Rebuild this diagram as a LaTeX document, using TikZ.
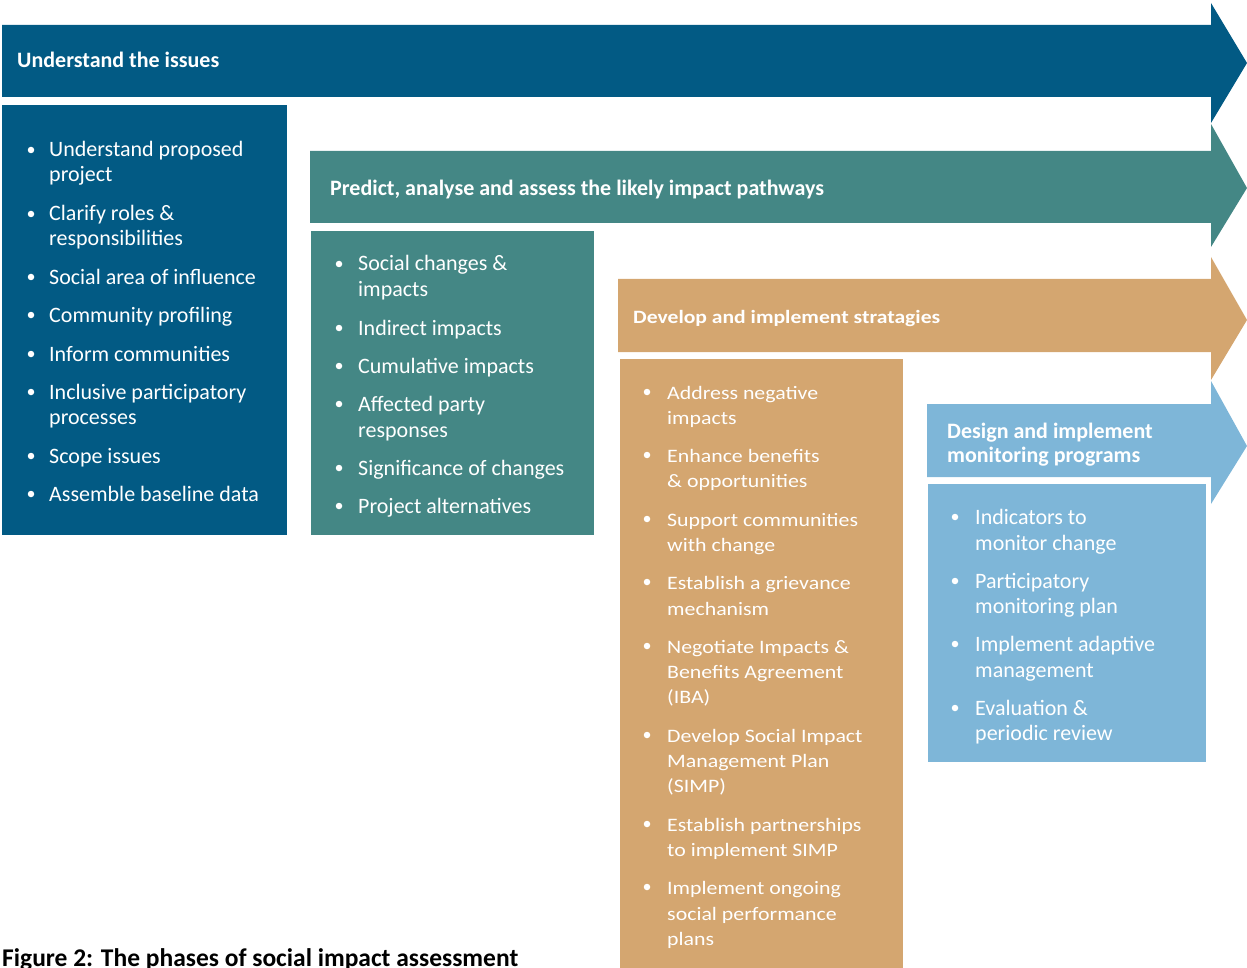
\documentclass[tikz,border=0pt]{standalone}
\usepackage{fontspec}
\setmainfont{Carlito}
\newfontfamily\widefont[FakeStretch=1.15]{Carlito}
\definecolor{cdark}{RGB}{2,90,132}
\definecolor{cteal}{RGB}{68,135,133}
\definecolor{ctan}{RGB}{212,166,112}
\definecolor{clight}{RGB}{126,182,216}
\newcounter{ln}
\newcommand\tline[3]{\stepcounter{ln}\node[itemline] (t\theln) at (#1,#2+8) {#3};}
\newcommand\tbul[2]{\stepcounter{ln}\node[bulletdot] (b\theln) at (#1,#2) {};}
\tikzset{
  itemline/.style={anchor=base west, inner sep=0pt, text=white, font=\fontsize{22}{25}\selectfont},
  bulletdot/.style={circle, fill=white, inner sep=0pt, minimum size=6.5pt},
  head/.style={anchor=base west, inner sep=0pt, text=white, font=\bfseries\fontsize{22}{24}\selectfont},
}
\begin{document}
\begin{tikzpicture}[x=1pt,y=-1pt]
\useasboundingbox (0,0) rectangle (1247,968);
% arrows
\fill[cdark] (2,25) -- (1211,25) -- (1211,3) -- (1247,63) -- (1211,123) -- (1211,97) -- (2,97) -- cycle;
\fill[cteal] (310,151) -- (1211,151) -- (1211,124) -- (1247,188) -- (1211,247) -- (1211,223) -- (310,223) -- cycle;
\fill[ctan] (618,279) -- (1211,279) -- (1211,257) -- (1247,320) -- (1211,380) -- (1211,352) -- (618,352) -- cycle;
\fill[clight] (927,404) -- (1211,404) -- (1211,381) -- (1247,446) -- (1211,504) -- (1211,477) -- (927,477) -- cycle;
% boxes
\fill[cdark] (2,105) rectangle (287,535);
\fill[cteal] (311,231) rectangle (594,535);
\fill[ctan] (620,359) rectangle (903,968);
\fill[clight] (928,484) rectangle (1206,762);
% headings
\node[head] (h1) at (17,68) {Understand the issues};
\node[head] (h2) at (330,196) {Predict, analyse and assess the likely impact pathways};
\node[head, font=\widefont\bfseries\fontsize{18.8}{24}\selectfont] (h3) at (633,323) {Develop and implement stratagies};
\node[head] (h4a) at (947,438) {Design and implement};
\node[head] (h4b) at (947,462) {monitoring programs};
% box 1
\tbul{31}{150}\tline{49}{149}{Understand proposed}\tline{49}{174}{project}
\tbul{31}{214}\tline{49}{213}{Clarify roles \&}\tline{49}{238}{responsibilities}
\tbul{31}{277}\tline{49}{276}{Social area of influence}
\tbul{31}{315}\tline{49}{314}{Community profiling}
\tbul{31}{354}\tline{49}{353}{Inform communities}
\tbul{31}{392}\tline{49}{391}{Inclusive participatory}\tline{49}{416}{processes}
\tbul{31}{456}\tline{49}{455}{Scope issues}
\tbul{31}{494}\tline{49}{493}{Assemble baseline data}
% box 2
\tbul{339}{264}\tline{358}{263}{Social changes \&}\tline{358}{288}{impacts}
\tbul{339}{328}\tline{358}{327}{Indirect impacts}
\tbul{339}{366}\tline{358}{365}{Cumulative impacts}
\tbul{339}{404}\tline{358}{403}{Affected party}\tline{358}{429}{responses}
\tbul{339}{468}\tline{358}{467}{Significance of changes}
\tbul{339}{506}\tline{358}{505}{Project alternatives}
% box 3
\begin{scope}[itemline/.append style={font=\widefont\fontsize{19}{25}\selectfont}]
\tbul{647}{392}\tline{667}{391}{Address negative}\tline{667}{416}{impacts}
\tbul{647}{455}\tline{667}{454}{Enhance benefits}\tline{667}{479}{\& opportunities}
\tbul{647}{519}\tline{667}{518}{Support communities}\tline{667}{543}{with change}
\tbul{647}{582}\tline{667}{581}{Establish a grievance}\tline{667}{607}{mechanism}
\tbul{647}{646}\tline{667}{645}{Negotiate Impacts \&}\tline{667}{670}{Benefits Agreement}\tline{667}{695}{(IBA)}
\tbul{647}{735}\tline{667}{734}{Develop Social Impact}\tline{667}{759}{Management Plan}\tline{667}{784}{(SIMP)}
\tbul{647}{824}\tline{667}{823}{Establish partnerships}\tline{667}{848}{to implement SIMP}
\tbul{647}{887}\tline{667}{886}{Implement ongoing}\tline{667}{912}{social performance}\tline{667}{937}{plans}
\end{scope}
% box 4
\tbul{955}{517}\tline{975}{516}{Indicators to}\tline{975}{542}{monitor change}
\tbul{955}{581}\tline{975}{580}{Participatory}\tline{975}{605}{monitoring plan}
\tbul{955}{644}\tline{975}{643}{Implement adaptive}\tline{975}{669}{management}
\tbul{955}{708}\tline{975}{707}{Evaluation \&}\tline{975}{732}{periodic review}
% caption
\node[anchor=base west, inner sep=0pt, font=\bfseries\fontsize{25.5}{28}\selectfont] (cap) at (2,966) {Figure 2: The phases of social impact assessment};
\end{tikzpicture}
\end{document}
